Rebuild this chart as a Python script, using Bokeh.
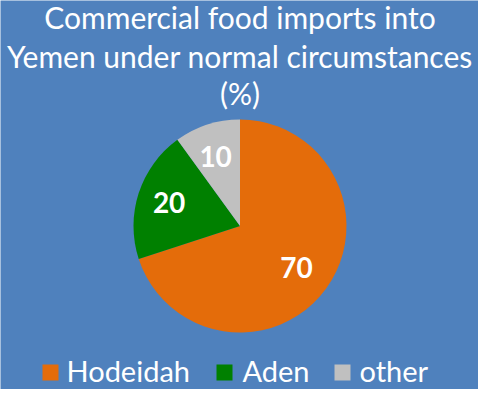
import numpy as np
from bokeh.plotting import figure
from bokeh.models import Range1d, ColumnDataSource
from bokeh.core.properties import value
from bokeh.embed import file_html
from bokeh.resources import INLINE

# ---- data ----
categories = ["Hodeidah", "Aden", "other"]
values = [70, 20, 10]
colors = ["#E46C0A", "#008000", "#C0C0C0"]
title_lines = ["Commercial food imports into", "Yemen under normal circumstances", "(%)"]

# ---- layout ----
W, H = 478, 389
BG = "#4F81BD"
FONT = "Lato"
cx, cy, R = 239.5, 163.5, 106.5

p = figure(width=W, height=H, output_backend="svg", toolbar_location=None,
           x_range=Range1d(0, W), y_range=Range1d(0, H), min_border=0)
p.axis.visible = False
p.grid.visible = False
p.outline_line_color = None
p.background_fill_color = BG
p.border_fill_color = BG

vals = np.array(values, dtype=float)
frac = vals / vals.sum()
ends = np.pi / 2 - 2 * np.pi * np.concatenate([[0], np.cumsum(frac)[:-1]])
starts = ends - 2 * np.pi * frac
src = ColumnDataSource(dict(start=starts, end=ends, color=colors, cat=categories))
p.wedge(x=cx, y=cy, radius=R, start_angle="start", end_angle="end",
        fill_color="color", line_color=None, source=src)

mid = (starts + ends) / 2
k = 0.68
lx = cx + k * R * np.cos(mid)
ly = cy + k * R * np.sin(mid)
p.text(x=lx - 2, y=ly + 1, text=[str(v) for v in values], text_color="white",
       text_font=value(FONT), text_font_style="bold", text_font_size="28px",
       text_align="center", text_baseline="alphabetic")

# title
ty = [373, 334, 297]
p.text(x=[239.5] * 3, y=ty, text=title_lines, text_color="white",
       text_font=value(FONT), text_font_size="30px",
       text_align="center", text_baseline="alphabetic")

# legend
sq_x = [50, 224, 342]
tx_x = [66, 242, 359]
p.rect(x=sq_x, y=[17] * 3, width=16, height=16, fill_color=colors, line_color=None)
p.text(x=tx_x, y=[19] * 3, text=categories, text_color="white",
       text_font=value(FONT), text_font_size="29px",
       text_align="left", text_baseline="alphabetic")

open("out.html", "w").write(file_html(p, INLINE))
